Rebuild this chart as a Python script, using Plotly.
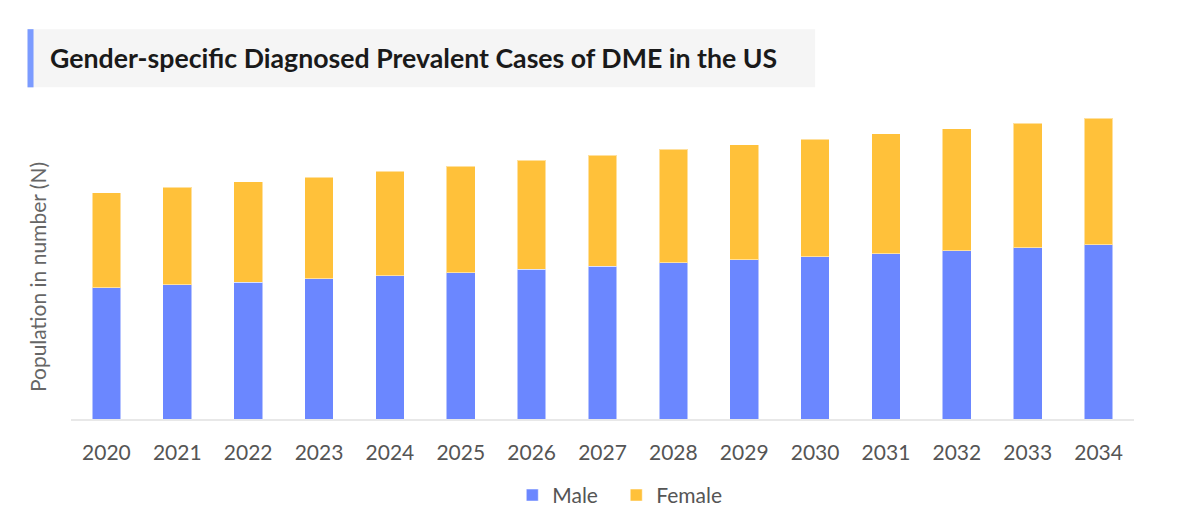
import plotly.graph_objects as go

years = [str(y) for y in range(2020, 2035)]
male = [133000, 136000, 139000, 142500, 145500, 148500, 152000, 155000,
        158500, 161500, 164500, 167500, 170500, 173500, 177000]
female = [96500, 99000, 101500, 103000, 106000, 108000, 110500, 112500,
          115000, 117000, 119500, 122000, 124000, 126500, 128000]

W, H = 1200, 528
L, R, T, B = 70.5, 1134, 110, 423.5
YMAX = 313500

def px(x):
    return (x - L) / (R - L)

def py(y):
    return (B - y) / (B - T)

FONT = "Lato, 'Open Sans', sans-serif"

fig = go.Figure()
fig.add_trace(go.Bar(x=years, y=male, name="Male", legend="legend",
                     marker=dict(color="#6B87FF", line=dict(color="rgba(255,255,255,0.5)", width=1))))
fig.add_trace(go.Bar(x=years, y=female, name="Female", legend="legend2",
                     marker=dict(color="#FFC13A", line=dict(color="rgba(255,255,255,0.5)", width=1))))

leg_common = dict(orientation="h", xanchor="left", yanchor="middle", y=py(501),
                  font=dict(size=21, color="#555555", family=FONT), itemwidth=30)

fig.update_layout(
    width=W, height=H,
    barmode="stack", bargap=0.595,
    margin=dict(l=L, r=W - R, t=T, b=H - B, pad=0),
    paper_bgcolor="white", plot_bgcolor="white",
    font=dict(family=FONT, color="#555555", size=21),
    showlegend=True,
    legend=dict(x=px(512), **leg_common),
    legend2=dict(x=px(616), **leg_common),
    xaxis=dict(showgrid=False, showline=True, linecolor="#e8e8e8", linewidth=2,
               ticks="", tickfont=dict(size=21, color="#555555"), ticklabelstandoff=14),
    yaxis=dict(range=[0, YMAX], showgrid=False, showticklabels=False, zeroline=False,
               showline=False),
    shapes=[
        dict(type="rect", xref="paper", yref="paper",
             x0=px(27), x1=px(815), y0=py(87), y1=py(28),
             fillcolor="#f5f5f5", line=dict(width=0), layer="below"),
        dict(type="rect", xref="paper", yref="paper",
             x0=px(27), x1=px(33), y0=py(87), y1=py(28),
             fillcolor="#7b9bff", line=dict(width=0)),
    ],
    annotations=[
        dict(text="<b>Gender-specific Diagnosed Prevalent Cases of DME in the US</b>",
             xref="paper", yref="paper", x=px(47), y=py(57), xanchor="left", yanchor="middle",
             showarrow=False, font=dict(size=26.7, color="#1a1a1a", family=FONT)),
        dict(text="Population in number (N)", xref="paper", yref="paper",
             x=px(37), y=py(280), xanchor="center", yanchor="middle", textangle=-90,
             showarrow=False, font=dict(size=21, color="#666666", family=FONT)),
    ],
)

fig.write_html("out.html", config={"displayModeBar": False},
               post_script="document.body.style.margin='0';document.body.style.overflow='hidden';")
